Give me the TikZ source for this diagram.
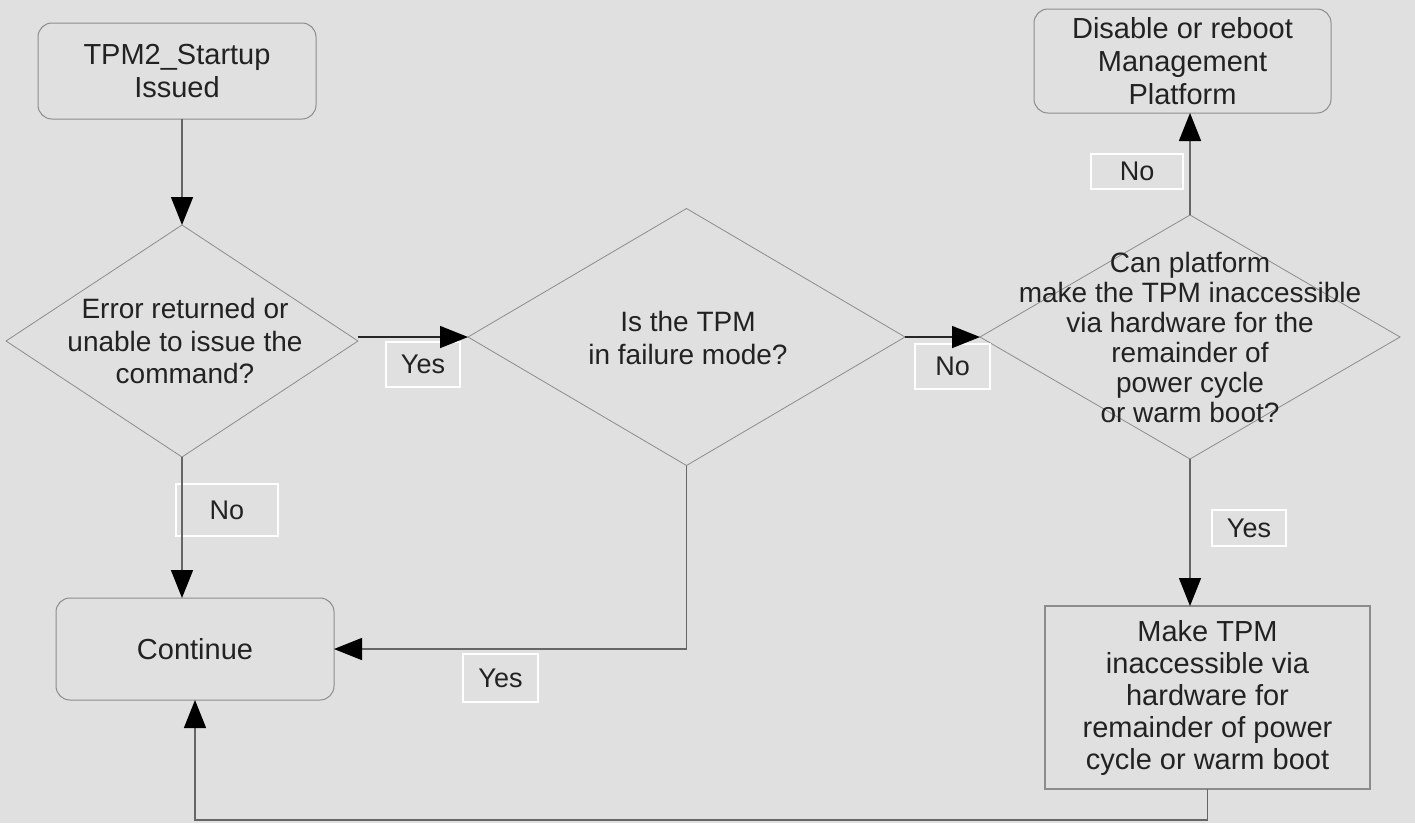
\documentclass[tikz,border=0pt]{standalone}
\usepackage{fontspec}
\setmainfont{Liberation Sans}
\usetikzlibrary{shapes.geometric,arrows.meta}
\definecolor{bg}{HTML}{E0E0E0}
\definecolor{edgec}{HTML}{8C8C8C}
\definecolor{connc}{HTML}{666666}
\definecolor{txtc}{HTML}{222222}
\begin{document}
\begin{tikzpicture}[x=1pt,y=-1pt,
  rbox/.style={draw=edgec,line width=1pt,rectangle,rounded corners=14pt,inner sep=0pt,outer sep=0pt,
    font=\fontsize{29}{33}\selectfont,text=txtc,align=center},
  sbox/.style={draw=edgec,line width=1.2pt,rectangle,inner sep=0pt,outer sep=0pt,
    font=\fontsize{29}{32}\selectfont,text=txtc,align=center},
  dia/.style={draw=edgec,line width=0.8pt,diamond,inner sep=0pt,outer sep=0pt},
  dtxt/.style={font=\fontsize{28}{32.5}\selectfont,text=txtc,align=center,inner sep=0pt},
  lbl/.style={draw=white,line width=1.2pt,rectangle,inner sep=0pt,
    font=\fontsize{27}{30}\selectfont,text=txtc},
  conn/.style={draw=connc,line width=1.5pt},
  arr/.style={conn,-{Triangle[length=28pt,width=22pt,color=black]}}
]
\fill[bg] (0,0) rectangle (1415,823);
\useasboundingbox (0,0) rectangle (1415,823);

% nodes
\node[rbox,minimum width=278pt,minimum height=96pt] (start) at (177,71) {TPM2\_Startup\\Issued};
\node[dia,minimum width=352pt,minimum height=232pt] (d1) at (182,341) {};
\node[dtxt] (d1t) at (185,341) {Error returned or\\unable to issue the\\command?};
\node[dia,minimum width=437pt,minimum height=257pt] (d2) at (686.5,337) {};
\node[dtxt] (d2t) at (688,338) {Is the TPM\\in failure mode?};
\node[dia,minimum width=420pt,minimum height=244pt] (d3) at (1190,337) {};
\node[dtxt,font=\fontsize{28}{30}\selectfont] (d3t) at (1190,337) {Can platform\\make the TPM inaccessible\\via hardware for the\\remainder of\\power cycle\\or warm boot?};
\node[rbox,minimum width=297pt,minimum height=104pt] (dis) at (1182.5,61) {Disable or reboot\\Management\\Platform};
\node[sbox,minimum width=325pt,minimum height=183pt] (make) at (1207.5,697.5) {Make TPM\\inaccessible via\\hardware for\\remainder of power\\cycle or warm boot};
\node[rbox,minimum width=278pt,minimum height=102pt] (cont) at (195,649) {Continue};

% labels
\node[lbl,minimum width=74pt,minimum height=45pt] (yes1) at (423,364.5) {Yes};
\node[lbl,minimum width=75pt,minimum height=45pt] (no1) at (952.5,366.5) {No};
\node[lbl,minimum width=102pt,minimum height=52pt] (no2) at (227,510) {No};
\node[lbl,minimum width=92pt,minimum height=35pt] (no3) at (1137,171.5) {No};
\node[lbl,minimum width=74pt,minimum height=36pt] (yes2) at (1249,528) {Yes};
\node[lbl,minimum width=75pt,minimum height=48pt] (yes3) at (500.5,678) {Yes};

% connectors
\draw[arr] ([xshift=5pt]start.south) -- (d1.north);
\draw[arr,draw=black!85] (d1.east |- d2.west) -- (d2.west);
\draw[arr] (d1.south) -- (d1.south |- cont.north);
\draw[arr] (d2.south) |- (cont.east);
\draw[arr,draw=black!85] (d2.east) -- (d3.west);
\draw[arr] (d3.north) -- (d3.north |- dis.south);
\draw[arr] (d3.south) -- (d3.south |- make.north);
\coordinate (bend) at ([yshift=-31pt]make.south);
\draw[arr] (make.south) -- (bend) -| (cont.south);
\end{tikzpicture}
\end{document}
